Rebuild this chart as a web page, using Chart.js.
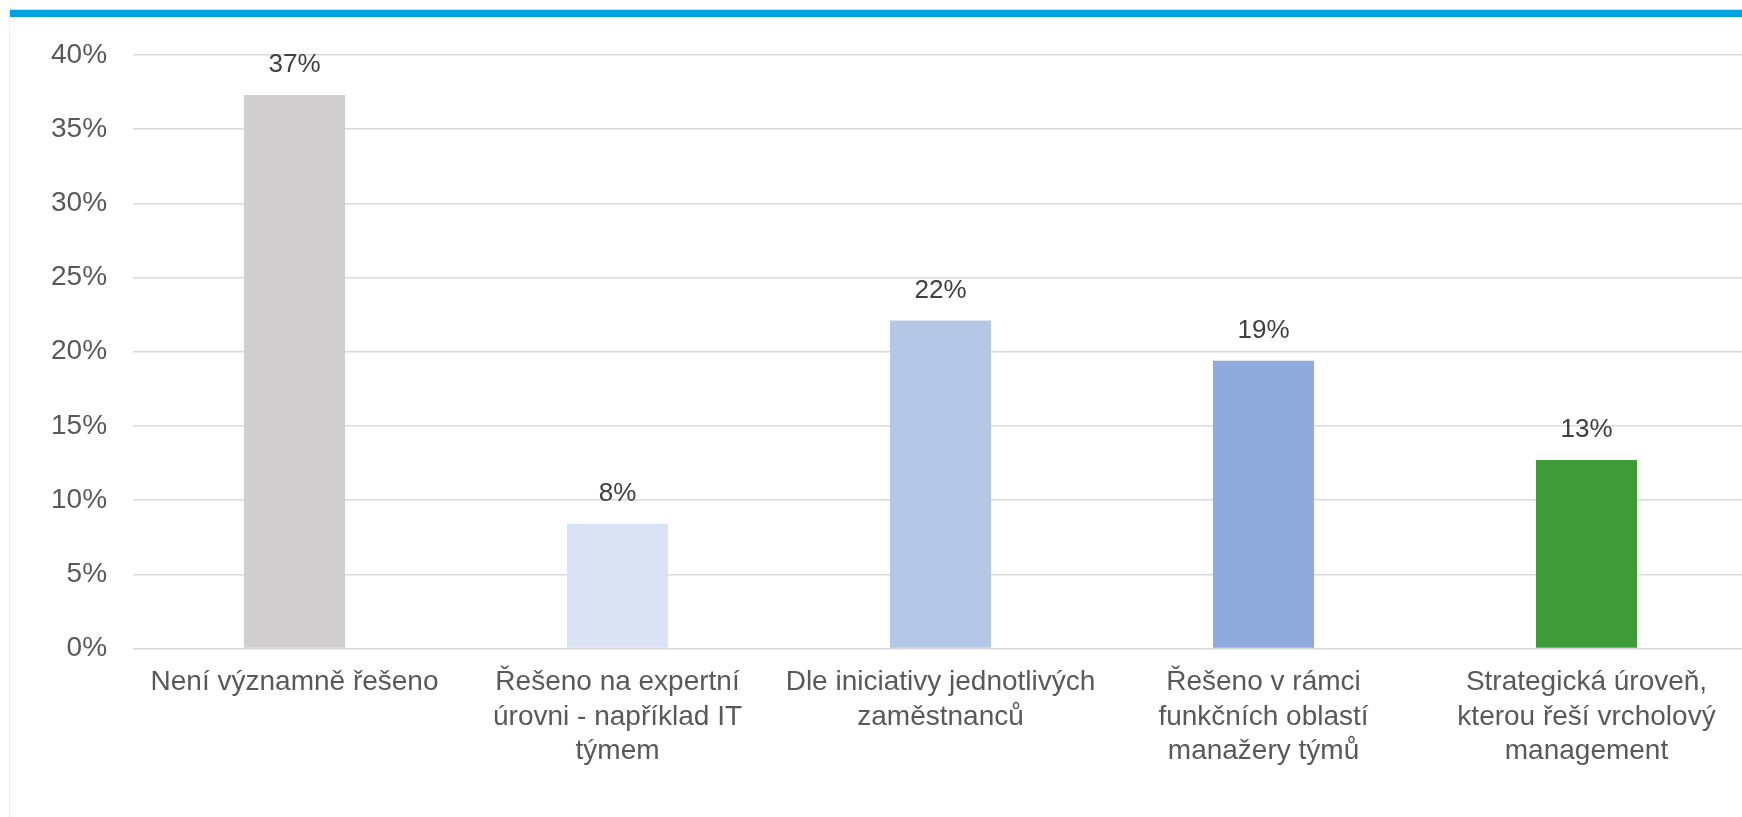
<!DOCTYPE html>
<html>
<head>
<meta charset="utf-8">
<script src="https://cdn.jsdelivr.net/npm/chart.js@4"></script>
<style>
  html, body { margin: 0; padding: 0; background: #fff; overflow: hidden; }
  body { width: 1742px; height: 817px; position: relative; }
  .panel { position: absolute; left: 9px; top: 9px; width: 1740px; height: 820px;
           border-left: 1px solid #eeeeee; border-top: 1px solid #dcdcdc; }
  .strip { position: absolute; left: 10px; top: 10px; width: 1740px; height: 7px; background: #00a1e0; }
  .wrap { position: absolute; left: 0; top: 0; width: 1748px; height: 817px; }
</style>
</head>
<body>
<div class="panel"></div>
<div class="strip"></div>
<div class="wrap"><canvas id="chart"></canvas></div>
<script>
// survey answers, share of respondents (%)
const categories = [
  'Není významně řešeno',
  ['Řešeno na expertní', 'úrovni - například IT', 'týmem'],
  ['Dle iniciativy jednotlivých', 'zaměstnanců'],
  ['Řešeno v rámci', 'funkčních oblastí', 'manažery týmů'],
  ['Strategická úroveň,', 'kterou řeší vrcholový', 'management'],
];
const shares = [37.3, 8.4, 22.1, 19.4, 12.7];
const barColors = ['#d0cece', '#dae3f3', '#b4c7e7', '#8faadc', '#3f9b37'];
const yTicks = [0, 5, 10, 15, 20, 25, 30, 35, 40];

const FONT = "'Liberation Sans', Arial, sans-serif";
const TEXT = '#595959';
const GRID = '#d9d9d9';

// value labels above the bars
const barLabels = {
  id: 'barLabels',
  afterDatasetsDraw(chart) {
    const ctx = chart.ctx;
    const meta = chart.getDatasetMeta(0);
    ctx.save();
    ctx.font = '26px ' + FONT;
    ctx.fillStyle = '#404040';
    ctx.textAlign = 'center';
    ctx.textBaseline = 'middle';
    meta.data.forEach(function (bar, i) {
      ctx.fillText(Math.round(shares[i]) + '%', bar.x, bar.y - 30);
    });
    ctx.restore();
  },
};

new Chart(document.getElementById('chart'), {
  type: 'bar',
  data: {
    labels: categories,
    datasets: [{
      data: shares,
      backgroundColor: barColors,
      categoryPercentage: 1,
      barPercentage: 0.313,
    }],
  },
  options: {
    responsive: true,
    maintainAspectRatio: false,
    animation: false,
    layout: { padding: { left: 25, right: 0, top: 55, bottom: 31 } },
    plugins: { legend: { display: false }, tooltip: { enabled: false } },
    scales: {
      x: {
        grid: { display: false, drawTicks: false },
        border: { display: false },
        ticks: {
          color: TEXT, font: { family: FONT, size: 28, lineHeight: 1.232 },
          padding: 17, maxRotation: 0, autoSkip: false,
        },
      },
      y: {
        min: 0, max: 40,
        afterBuildTicks(axis) { axis.ticks = yTicks.map(v => ({ value: v })); },
        grid: { color: GRID, lineWidth: 1.5, drawTicks: false },
        border: { display: false },
        ticks: {
          color: TEXT, font: { family: FONT, size: 28 }, padding: 26,
          callback: v => v + '%',
        },
      },
    },
  },
  plugins: [barLabels],
});
</script>
</body>
</html>
